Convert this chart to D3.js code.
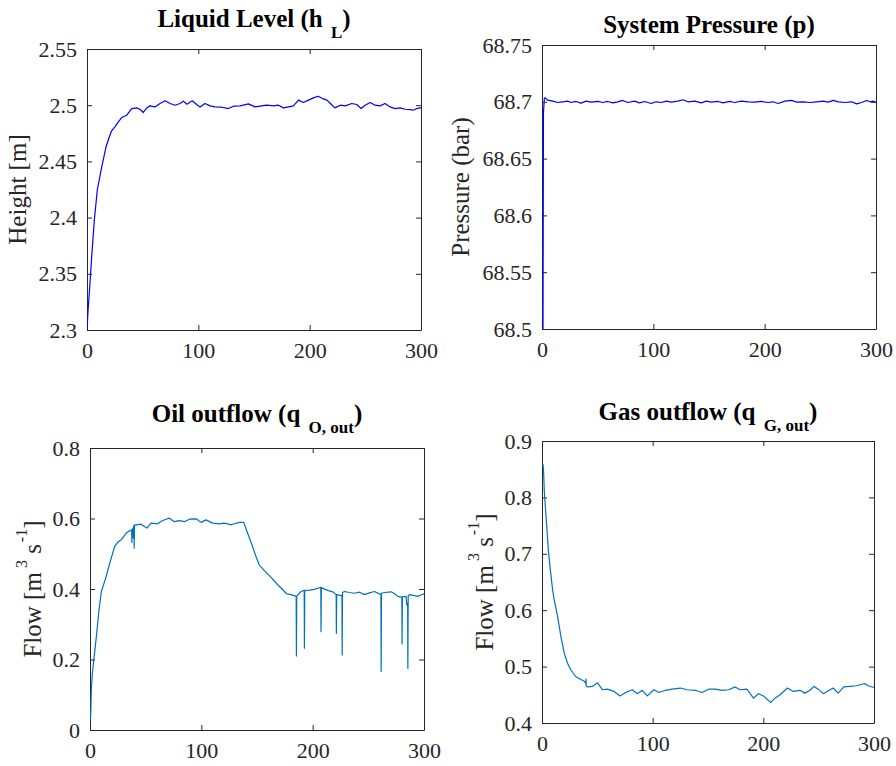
<!DOCTYPE html>
<html lang="en">
<head>
<meta charset="utf-8">
<title>separator response</title>
<script src="https://d3js.org/d3.v7.min.js"></script>
<style type="text/css">
  body { margin: 0; background: #fff; }
  svg text { font-family: "Liberation Serif", "Times New Roman", serif; white-space: pre; }
  .trace { fill: none; stroke-width: 1.2px; stroke-linejoin: round; }
  .axis path, .axis line { stroke: #262626; stroke-width: 1px; }
  .axis text { fill: #262626; font-size: 22px; }
  .title { font-weight: bold; font-size: 25px; fill: #000; }
  .ylabel { font-size: 25px; fill: #262626; }
</style>
</head>
<body>
<script>

var w = 896;
var h = 766;

// data: [time, value]
var liquidLevel = [[0, 2.300], [1, 2.318], [2.1, 2.333], [4.2, 2.365], [6.6, 2.398], [9.3, 2.425],
  [13.2, 2.445], [17.1, 2.463], [19.8, 2.471], [22, 2.477], [25.2, 2.481], [28, 2.485], [31.1, 2.489],
  [35.6, 2.491], [40.1, 2.497], [44.6, 2.4976], [47.6, 2.4964], [50.6, 2.4935], [53.6, 2.4976],
  [56.6, 2.4994], [61.1, 2.4985], [65.6, 2.5015], [70.1, 2.5039], [74.6, 2.5015], [79.1, 2.5],
  [83.5, 2.5015], [86.6, 2.5036], [89.6, 2.5009], [94.6, 2.5039], [98.5, 2.5006], [101.5, 2.4985],
  [106, 2.5015], [110.5, 2.4994], [115, 2.4985], [121, 2.4982], [127, 2.497], [131.5, 2.4991],
  [137.5, 2.4994], [145, 2.5012], [151, 2.4985], [157, 2.4994], [161.5, 2.5], [167.4, 2.4994],
  [172, 2.5], [176.4, 2.4976], [181, 2.4985], [185.4, 2.4994], [190, 2.5045], [194.4, 2.5024],
  [199, 2.5045], [203.4, 2.5065], [207.5, 2.508], [211.6, 2.5059], [215.5, 2.5045], [218.6, 2.5015],
  [222.6, 2.4976], [227.6, 2.5], [232, 2.4994], [237.8, 2.5015], [242.3, 2.5006], [246.2, 2.497],
  [249.8, 2.5], [254.3, 2.5024], [258.8, 2.5], [263.3, 2.4994], [267.7, 2.5015], [272.3, 2.4985],
  [276.8, 2.497], [281.3, 2.4976], [285.8, 2.4964], [290.3, 2.4961], [293.2, 2.4955], [296.2, 2.497],
  [300, 2.4978]];

var pressure = [[0.5, 68.5], [0.9, 68.5], [1.3, 68.69], [2.1, 68.703], [3, 68.7035], [5.1, 68.7015],
  [9.6, 68.7006], [14.1, 68.6994], [18.6, 68.7], [23.1, 68.7006], [26.1, 68.6994], [30.6, 68.7003],
  [35.1, 68.6988], [39.6, 68.7006], [44.1, 68.6997], [50.1, 68.7003], [54.6, 68.6994], [59.1, 68.7003],
  [63.6, 68.6991], [68.1, 68.7], [72.6, 68.7012], [77.1, 68.6994], [83.1, 68.7006], [87.6, 68.6991],
  [92.1, 68.7003], [98.1, 68.6985], [102.6, 68.7], [107.1, 68.6994], [111.6, 68.7006], [116.1, 68.6997],
  [122.1, 68.7006], [126.6, 68.7018], [131.1, 68.7], [137.1, 68.7006], [143.1, 68.6991], [147.6, 68.7006],
  [152.1, 68.6997], [158.1, 68.7003], [162.6, 68.6991], [168.6, 68.7003], [173.1, 68.6994],
  [179.1, 68.7006], [185.1, 68.7], [191.1, 68.6997], [197.1, 68.7003], [203.1, 68.6994], [207.6, 68.7],
  [212.1, 68.6985], [218.1, 68.7006], [224.1, 68.7012], [228.6, 68.6997], [234.6, 68.7], [240.6, 68.6994],
  [246.6, 68.7], [252.6, 68.7006], [257.1, 68.6997], [261.6, 68.7012], [266.1, 68.7], [272.1, 68.6994],
  [278.1, 68.7], [282.6, 68.6982], [287.1, 68.6994], [291.6, 68.7012], [294.6, 68.7], [297.6, 68.7006],
  [300, 68.6994]];

var oilOutflow = [[0, 0.03], [0.6, 0.038], [1.2, 0.114], [2.1, 0.161], [3.6, 0.204], [5.7, 0.265],
  [8.1, 0.341], [10.2, 0.393], [14.1, 0.431], [17.7, 0.473], [22.2, 0.521], [25, 0.533], [28.2, 0.540],
  [32.7, 0.559], [35.5, 0.565], [37.4, 0.567], [37.6, 0.532], [37.9, 0.569], [38.6, 0.572], [38.8, 0.545],
  [39.1, 0.578], [39.5, 0.580], [39.7, 0.516], [40.0, 0.582], [41.3, 0.582], [45.8, 0.584], [48.5, 0.578],
  [51.2, 0.573], [54.8, 0.587], [60.8, 0.585], [64, 0.592], [68.3, 0.598], [71.3, 0.601], [75.8, 0.591],
  [80.2, 0.594], [84.8, 0.591], [89.3, 0.598], [95.3, 0.599], [99.7, 0.589], [104.2, 0.596],
  [110.2, 0.587], [116.2, 0.585], [120, 0.587], [123.7, 0.585], [126.5, 0.582], [129.7, 0.585],
  [134.2, 0.589], [138.1, 0.589], [141.6, 0.558], [146.1, 0.520], [149.1, 0.492], [152.1, 0.468],
  [156.6, 0.452], [162.6, 0.433], [168.6, 0.412], [171, 0.405], [174.6, 0.393], [177, 0.386],
  [180.5, 0.384], [185.2, 0.379], [185.4, 0.210], [185.7, 0.380], [189.5, 0.393], [192.4, 0.396],
  [192.6, 0.232], [192.9, 0.396], [197, 0.397], [201.5, 0.399], [207.3, 0.405], [207.5, 0.279],
  [207.8, 0.404], [213.5, 0.396], [218, 0.392], [221.1, 0.384], [221.3, 0.274], [221.6, 0.384],
  [225.5, 0.381], [226.3, 0.382], [226.5, 0.213], [226.8, 0.390], [228.5, 0.393], [233, 0.390],
  [237.5, 0.388], [242, 0.391], [246.5, 0.384], [251, 0.389], [255.5, 0.393], [261.3, 0.384],
  [261.5, 0.166], [261.8, 0.388], [264.4, 0.390], [270.4, 0.392], [273, 0.388], [276.4, 0.379],
  [280.1, 0.377], [280.3, 0.244], [280.6, 0.378], [283.9, 0.379], [284.5, 0.355], [285.3, 0.360],
  [285.5, 0.175], [285.8, 0.381], [286.9, 0.384], [291.4, 0.381], [294.4, 0.379], [297, 0.383],
  [300, 0.386]];

var gasOutflow = [[0.3, 0.858], [1.0, 0.858], [1.5, 0.843], [2.1, 0.810], [3.0, 0.784], [4.2, 0.751],
  [5.7, 0.707], [7.5, 0.672], [9.6, 0.636], [11.1, 0.618], [14.1, 0.589], [17.1, 0.553], [20.1, 0.524],
  [23.1, 0.506], [26.1, 0.494], [30.6, 0.482], [35.1, 0.477], [38.2, 0.474], [39.5, 0.470], [39.7, 0.478],
  [40, 0.466], [41.1, 0.464], [45.6, 0.465], [50.1, 0.471], [54.6, 0.459], [59.1, 0.460], [65.1, 0.456],
  [70.5, 0.448], [75.6, 0.454], [81.6, 0.459], [86.1, 0.452], [90.6, 0.458], [95.1, 0.448],
  [101.1, 0.459], [105.6, 0.454], [111.6, 0.458], [117.6, 0.460], [125.1, 0.462], [131.1, 0.459],
  [138.6, 0.458], [144.6, 0.454], [150.6, 0.460], [156.6, 0.460], [162.6, 0.458], [168.6, 0.459],
  [174.6, 0.464], [179.1, 0.459], [185.1, 0.460], [191.1, 0.444], [195.6, 0.452], [200.1, 0.448],
  [204.6, 0.440], [206.7, 0.4365], [210.6, 0.444], [215.1, 0.450], [221.7, 0.462], [227.1, 0.456],
  [233.1, 0.458], [237.6, 0.453], [242.1, 0.458], [245.7, 0.465], [249.6, 0.460], [254.1, 0.452],
  [259.5, 0.458], [263.1, 0.462], [267.6, 0.453], [272.7, 0.464], [278.1, 0.465], [284.1, 0.466],
  [291.6, 0.470], [294.6, 0.466], [300, 0.463]];

// tick labels
var timeTicks = [0, 100, 200, 300];
var levelTicks = [2.3, 2.35, 2.4, 2.45, 2.5, 2.55];
var pressureTicks = [68.5, 68.55, 68.6, 68.65, 68.7, 68.75];
var oilTicks = [0, 0.2, 0.4, 0.6, 0.8];
var gasTicks = [0.4, 0.5, 0.6, 0.7, 0.8, 0.9];

var fmt = d3.format("~g");

var svg = d3.select("body")
            .append("svg")
            .attr("width", w)
            .attr("height", h);

function drawPanel(p) {
  var xScale = d3.scaleLinear().domain([0, 300]).range([p.left, p.right]);
  var yScale = d3.scaleLinear()
                 .domain([p.yTicks[0], p.yTicks[p.yTicks.length - 1]])
                 .range([p.bottom, p.top]);

  // box with inward ticks on every side, labels only left + bottom
  svg.append("g").attr("class", "axis")
     .attr("transform", `translate(0, ${p.bottom})`)
     .call(d3.axisBottom(xScale).tickValues(timeTicks).tickFormat(fmt)
             .tickSizeInner(-5).tickSizeOuter(0).tickPadding(12));
  svg.append("g").attr("class", "axis")
     .attr("transform", `translate(0, ${p.top})`)
     .call(d3.axisTop(xScale).tickValues(timeTicks).tickFormat("")
             .tickSizeInner(-5).tickSizeOuter(0));
  svg.append("g").attr("class", "axis")
     .attr("transform", `translate(${p.left}, 0)`)
     .call(d3.axisLeft(yScale).tickValues(p.yTicks).tickFormat(fmt)
             .tickSizeInner(-5).tickSizeOuter(0).tickPadding(10));
  svg.append("g").attr("class", "axis")
     .attr("transform", `translate(${p.right}, 0)`)
     .call(d3.axisRight(yScale).tickValues(p.yTicks).tickFormat("")
             .tickSizeInner(-5).tickSizeOuter(0));

  svg.append("clipPath")
     .attr("id", "clip" + p.id)
     .append("rect")
     .attr("x", p.left).attr("y", p.top - 1)
     .attr("width", p.right - p.left + 1).attr("height", p.bottom - p.top + 2);

  var lineGen = d3.line()
                  .x(d => xScale(d[0]))
                  .y(d => yScale(d[1]));

  // data on top of the box, like matlab
  svg.append("path")
     .datum(p.data)
     .attr("class", "trace")
     .attr("stroke", p.color)
     .attr("clip-path", "url(#clip" + p.id + ")")
     .attr("d", lineGen);

  // title with subscript
  var t = svg.append("text")
             .attr("class", "title")
             .attr("x", (p.left + p.right) / 2)
             .attr("y", p.titleY)
             .attr("text-anchor", "middle");
  t.append("tspan").text(p.title[0]);
  if (p.title.length > 1) {
    t.append("tspan").attr("font-size", "17px").attr("dx", 2).attr("dy", 11).text(p.title[1]);
    t.append("tspan").attr("dy", -11).text(p.title[2]);
  }

  // y label, rotated
  var lab = svg.append("text")
               .attr("class", "ylabel")
               .attr("text-anchor", "middle")
               .attr("transform", `translate(${p.labelX}, ${(p.top + p.bottom) / 2}) rotate(-90)`);
  lab.append("tspan").text(p.label[0]);
  if (p.label.length > 1) {
    lab.append("tspan").attr("font-size", "16px").attr("dx", 4).attr("dy", -14).text(p.label[1]);
    lab.append("tspan").attr("dy", 14).text(" s");
    lab.append("tspan").attr("font-size", "16px").attr("dx", 2).attr("dy", -14).text(p.label[2]);
    lab.append("tspan").attr("dy", 14).text("]");
  }
}

drawPanel({id: 1, left: 87, right: 421, top: 49, bottom: 330, data: liquidLevel, color: "#0000ff",
           yTicks: levelTicks, title: ["Liquid Level (h ", "L", ")"], titleY: 27,
           label: ["Height [m]"], labelX: 26});
drawPanel({id: 2, left: 542, right: 876, top: 45, bottom: 329, data: pressure, color: "#0000ff",
           yTicks: pressureTicks, title: ["System Pressure (p)"], titleY: 33,
           label: ["Pressure (bar)"], labelX: 469});
drawPanel({id: 3, left: 90, right: 424, top: 448, bottom: 730, data: oilOutflow, color: "#0072bd",
           yTicks: oilTicks, title: ["Oil outflow (q ", "O, out", ")"], titleY: 422,
           label: ["Flow [m", "3", "-1"], labelX: 41});
drawPanel({id: 4, left: 542, right: 874, top: 441, bottom: 723, data: gasOutflow, color: "#0072bd",
           yTicks: gasTicks, title: ["Gas outflow (q ", "G, out", ")"], titleY: 420,
           label: ["Flow [m", "3", "-1"], labelX: 493});

</script>
</body>
</html>
